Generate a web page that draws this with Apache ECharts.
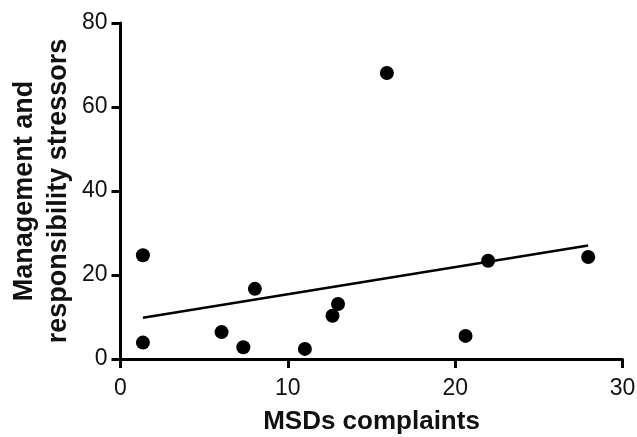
<!DOCTYPE html>
<html><head><meta charset="utf-8">
<script src="https://cdn.jsdelivr.net/npm/echarts@6/dist/echarts.min.js"></script>
<style>html,body{margin:0;padding:0;background:#fff}#c{width:637px;height:437px}</style>
</head><body><div id="c"></div>
<script>
var msdX = [1.34, 1.34, 6.04, 7.34, 8.03, 11.02, 12.67, 13.0, 15.92, 20.62, 21.97, 27.95];
var stressY = [24.7, 3.9, 6.4, 2.8, 16.7, 2.4, 10.3, 13.1, 68.1, 5.5, 23.4, 24.3];
var fitX = [1.34, 27.95];
var fitY = [9.8, 27.0];
var xTicks = [0, 10, 20, 30];
var yTicks = [0, 20, 40, 60, 80];
var xTitle = 'MSDs complaints';
var yTitleLines = ['Management and', 'responsibility stressors'];

var chart = echarts.init(document.getElementById('c'), null, {renderer: 'canvas'});
var pts = msdX.map(function (x, i) { return [x, stressY[i]]; });
var fit = fitX.map(function (x, i) { return [x, fitY[i]]; });
var font = 'Liberation Sans, Arial, Helvetica, sans-serif';
function axisBase(margin) {
  return {
    axisLine: {show: true, onZero: false, lineStyle: {color: '#000', width: 3}},
    axisTick: {show: true, inside: false, length: 9, lineStyle: {color: '#000', width: 3}},
    splitLine: {show: false},
    axisLabel: {color: '#111', fontSize: 23, fontFamily: font, margin: margin}
  };
}
chart.setOption({
  backgroundColor: '#fff',
  animation: false,
  grid: {left: 120.5, right: 14.5, top: 23, bottom: 78, containLabel: false, outerBoundsMode: 'none'},
  xAxis: Object.assign(axisBase(18), {
    type: 'value', min: xTicks[0], max: xTicks[xTicks.length - 1], interval: 10,
    name: xTitle, nameLocation: 'middle', nameGap: 50,
    nameTextStyle: {color: '#111', fontSize: 26, fontWeight: 'bold', fontFamily: font}
  }),
  yAxis: Object.assign(axisBase(13), {
    type: 'value', min: yTicks[0], max: yTicks[yTicks.length - 1], interval: 20
  }),
  graphic: [{
    type: 'text', x: 42, y: 191, rotation: Math.PI / 2,
    style: {
      text: yTitleLines.join('\n'), fill: '#111', font: 'bold 27px ' + font,
      textAlign: 'center', textVerticalAlign: 'middle', lineHeight: 34
    }
  }],
  series: [{
    type: 'line', data: fit, symbol: 'none', silent: true,
    lineStyle: {color: '#000', width: 2.5}
  }, {
    type: 'scatter', data: pts, symbol: 'circle', symbolSize: 14,
    itemStyle: {color: '#000', opacity: 1}
  }]
});
</script></body></html>
